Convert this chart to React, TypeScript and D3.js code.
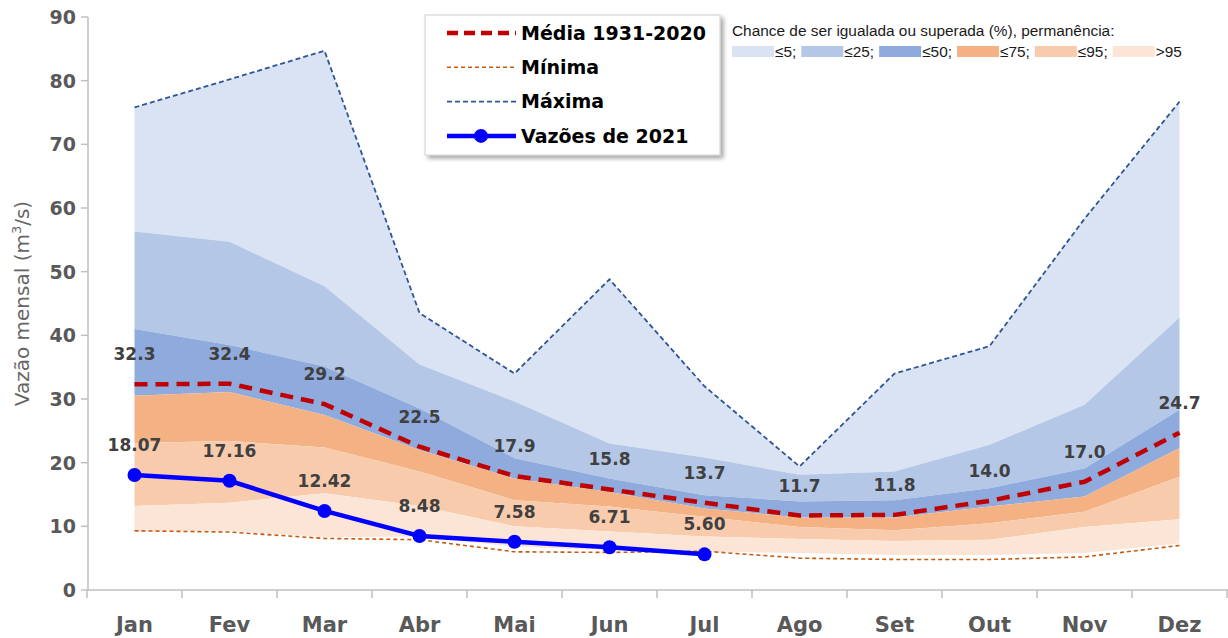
import React, { useRef, useEffect } from "react";
import * as d3 from "d3";

// months and series
const months = ["Jan", "Fev", "Mar", "Abr", "Mai", "Jun", "Jul", "Ago", "Set", "Out", "Nov", "Dez"];
const maxima = [75.8, 80.2, 84.7, 43.5, 34.0, 48.8, 32.0, 19.4, 34.0, 38.3, 58.3, 76.7];
const minima = [9.3, 9.1, 8.1, 7.9, 6.0, 5.9, 6.1, 5.0, 4.8, 4.8, 5.2, 7.0];
const p5 = [56.3, 54.7, 47.7, 35.4, 29.6, 23.0, 20.8, 18.1, 18.6, 22.8, 29.1, 42.8];
const p25 = [41.0, 38.5, 35.1, 28.5, 20.7, 17.5, 14.9, 13.9, 14.1, 16.0, 19.1, 28.3];
const p50 = [30.5, 31.1, 27.5, 22.0, 17.5, 15.4, 12.8, 11.4, 11.4, 13.1, 14.7, 22.3];
const p75 = [23.1, 23.4, 22.4, 18.6, 14.1, 13.1, 11.5, 9.9, 9.4, 10.5, 12.3, 17.8];
const p95 = [13.2, 13.7, 15.2, 13.2, 10.0, 9.2, 8.4, 8.0, 7.7, 7.9, 9.9, 11.1];
const p99 = [9.2, 9.3, 8.3, 8.4, 6.8, 6.3, 6.0, 5.8, 5.5, 5.5, 5.8, 7.3];
const media = [32.3, 32.4, 29.2, 22.5, 17.9, 15.8, 13.7, 11.7, 11.8, 14.0, 17.0, 24.7];
const vazoes2021 = [18.07, 17.16, 12.42, 8.48, 7.58, 6.71, 5.6];
const yTicks = [0, 10, 20, 30, 40, 50, 60, 70, 80, 90];
const bandLabels = ["≤5;", "≤25;", "≤50;", "≤75;", "≤95;", ">95"];
const lineLabels = ["Média 1931-2020", "Mínima", "Máxima", "Vazões de 2021"];

const bandColors = ["#dae3f3", "#b4c7e7", "#8faadc", "#f4b183", "#f8cbad", "#fbe5d6"];
const W = 1228, H = 638;

const App = () => {
  const svgRef = useRef<SVGSVGElement>(null);

  useEffect(() => {
    const svg = d3.select(svgRef.current);
    svg.selectAll("*").remove();

    const x = d3.scaleBand().domain(months).range([87, 1227]).padding(0);
    const cx = (m: string) => (x(m) as number) + x.bandwidth() / 2;
    const y = d3.scaleLinear().domain([0, 90]).range([590, 17]);

    const defs = svg.append("defs");
    defs.append("filter").attr("id", "shadow").attr("x", "-10%").attr("y", "-10%")
      .attr("width", "130%").attr("height", "130%")
      .append("feDropShadow").attr("dx", 3).attr("dy", 3).attr("stdDeviation", 2)
      .attr("flood-color", "#000").attr("flood-opacity", 0.35);

    // percentile bands
    const bounds = [maxima, p5, p25, p50, p75, p95, p99];
    bandColors.forEach((c, k) => {
      const top = bounds[k], bot = bounds[k + 1];
      const area = d3.area<string>()
        .x(m => cx(m))
        .y0((m, i) => y(bot[i]))
        .y1((m, i) => y(top[i]));
      svg.append("path").attr("d", area(months)).attr("fill", c);
    });

    // axes
    const axisColor = "#bfbfbf";
    svg.append("line").attr("x1", 87).attr("x2", W).attr("y1", y(0)).attr("y2", y(0))
      .attr("stroke", axisColor).attr("stroke-width", 1.5);
    months.concat(["end"]).forEach((m, i) => {
      const xx = 87 + i * x.bandwidth();
      svg.append("line").attr("x1", xx).attr("x2", xx).attr("y1", y(0)).attr("y2", y(0) + 8)
        .attr("stroke", axisColor).attr("stroke-width", 1.5);
    });
    svg.append("line").attr("x1", 88).attr("x2", 88).attr("y1", y(90)).attr("y2", y(0))
      .attr("stroke", axisColor).attr("stroke-width", 1.5);
    yTicks.forEach(t => {
      svg.append("line").attr("x1", 81).attr("x2", 88).attr("y1", y(t)).attr("y2", y(t))
        .attr("stroke", axisColor).attr("stroke-width", 1.5);
      svg.append("text").attr("x", 76).attr("y", y(t)).attr("dy", "0.36em")
        .attr("text-anchor", "end").attr("font-family", "DejaVu Sans").attr("font-weight", "bold")
        .attr("font-size", 19).attr("fill", "#595959").text(t);
    });
    months.forEach(m => {
      svg.append("text").attr("x", cx(m)).attr("y", 632).attr("text-anchor", "middle")
        .attr("font-family", "DejaVu Sans").attr("font-weight", "bold").attr("font-size", 21)
        .attr("fill", "#595959").text(m);
    });
    const yt = svg.append("text").attr("transform", `translate(29,${y(45)}) rotate(-90)`)
      .attr("text-anchor", "middle").attr("font-family", "DejaVu Sans").attr("font-size", 20)
      .attr("fill", "#666666");
    yt.append("tspan").text("Vazão mensal (m");
    yt.append("tspan").attr("font-size", 13).attr("dy", -8).text("3");
    yt.append("tspan").attr("dy", 8).text("/s)");

    // lines
    const line = d3.line<number>().x((d, i) => cx(months[i])).y(d => y(d));
    svg.append("path").attr("d", line(maxima)).attr("fill", "none").attr("stroke", "#2f5597")
      .attr("stroke-width", 1.8).attr("stroke-dasharray", "5,3");
    svg.append("path").attr("d", line(minima)).attr("fill", "none").attr("stroke", "#c55a11")
      .attr("stroke-width", 1.6).attr("stroke-dasharray", "4,3");
    svg.append("path").attr("d", line(media)).attr("fill", "none").attr("stroke", "#c00000")
      .attr("stroke-width", 4.5).attr("stroke-dasharray", "13,8");
    svg.append("path").attr("d", line(vazoes2021)).attr("fill", "none").attr("stroke", "#0000ff")
      .attr("stroke-width", 4.5);
    svg.selectAll(".dot").data(vazoes2021).enter().append("circle")
      .attr("cx", (d, i) => cx(months[i])).attr("cy", d => y(d)).attr("r", 7).attr("fill", "#0000ff");

    // data labels
    const label = (vals: number[], fmt: (v: number) => string) => {
      vals.forEach((v, i) => {
        svg.append("text").attr("x", cx(months[i])).attr("y", y(v) - 24).attr("text-anchor", "middle")
          .attr("font-family", "DejaVu Sans").attr("font-weight", "bold").attr("font-size", 17)
          .attr("fill", "#404040").text(fmt(v));
      });
    };
    label(media, v => v.toFixed(1));
    label(vazoes2021, v => v.toFixed(2));

    // line legend
    const lg = svg.append("g");
    lg.append("rect").attr("x", 425).attr("y", 15).attr("width", 295).attr("height", 140)
      .attr("fill", "#fff").attr("stroke", "#d0d0d0").attr("filter", "url(#shadow)");
    const styles = [
      { stroke: "#c00000", w: 4.5, dash: "11,6" },
      { stroke: "#c55a11", w: 1.6, dash: "4,3" },
      { stroke: "#2f5597", w: 1.8, dash: "5,3" },
      { stroke: "#0000ff", w: 4.5, dash: null },
    ];
    lineLabels.forEach((t, i) => {
      const ry = 33 + i * 34.3;
      const l = lg.append("line").attr("x1", 447).attr("x2", 516).attr("y1", ry).attr("y2", ry)
        .attr("stroke", styles[i].stroke).attr("stroke-width", styles[i].w);
      if (styles[i].dash) l.attr("stroke-dasharray", styles[i].dash);
      if (i === 3) lg.append("circle").attr("cx", 481).attr("cy", ry).attr("r", 7).attr("fill", "#0000ff");
      lg.append("text").attr("x", 521).attr("y", ry).attr("dy", "0.36em")
        .attr("font-family", "DejaVu Sans").attr("font-weight", "bold").attr("font-size", 19)
        .attr("fill", "#000").text(t);
    });

    // percentile legend
    const pg = svg.append("g");
    pg.append("text").attr("x", 732).attr("y", 36).attr("font-family", "Liberation Sans")
      .attr("font-size", 15.4).attr("fill", "#1a1a1a")
      .text("Chance de ser igualada ou superada (%), permanência:");
    let cursor = 732;
    bandLabels.forEach((t, i) => {
      pg.append("rect").attr("x", cursor).attr("y", 46).attr("width", 42).attr("height", 11)
        .attr("fill", bandColors[i]);
      const tx = pg.append("text").attr("x", cursor + 43).attr("y", 57)
        .attr("font-family", "Liberation Sans").attr("font-size", 15.4).attr("fill", "#1a1a1a").text(t);
      const len = (tx.node() as SVGTextElement).getComputedTextLength();
      cursor += 43 + len + 5;
    });
  }, []);

  return (
    <svg ref={svgRef} width={W} height={H}
      style={{ position: "absolute", left: 0, top: 0, background: "#fff" }} />
  );
};

export default App;
